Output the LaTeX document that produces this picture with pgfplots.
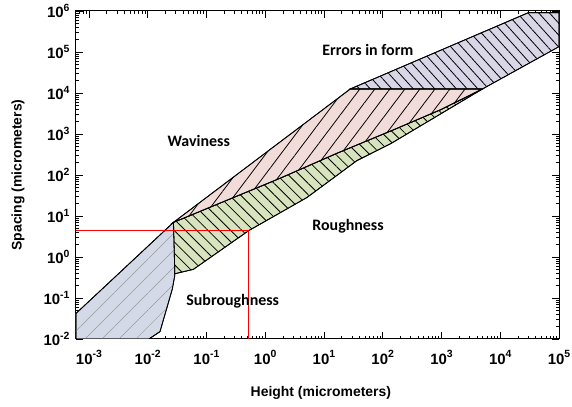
\documentclass[border=0pt]{standalone}
\usepackage{pgfplots}
\pgfplotsset{compat=1.18}
\usepackage{fontspec}
\setmainfont{Liberation Sans}
\newfontfamily\calibri{Carlito}
\usetikzlibrary{patterns.meta}
\definecolor{bluef}{RGB}{211,217,230}
\definecolor{greenf}{RGB}{215,228,190}
\definecolor{pinkf}{RGB}{242,220,217}
\definecolor{purplef}{RGB}{217,214,232}
\newcommand\expo[1]{\raisebox{0.45em}{\fontsize{10.5}{10.5}\selectfont\bfseries #1}}
\begin{document}
\begin{tikzpicture}
\begin{axis}[
  xmode=log, ymode=log, log basis x=10, log basis y=10,
  width=483bp, height=328bp, scale only axis,
  xmin=6.03e-4, xmax=1e5, ymin=1e-2, ymax=1e6,
  xtick={1e-3,1e-2,1e-1,1,1e1,1e2,1e3,1e4,1e5},
  ytick={1e-2,1e-1,1,1e1,1e2,1e3,1e4,1e5,1e6},
  minor xtick={7e-4,8e-4,9e-4,
    2e-3,3e-3,4e-3,5e-3,6e-3,7e-3,8e-3,9e-3,
    2e-2,3e-2,4e-2,5e-2,6e-2,7e-2,8e-2,9e-2,
    0.2,0.3,0.4,0.5,0.6,0.7,0.8,0.9,
    2,3,4,5,6,7,8,9,
    20,30,40,50,60,70,80,90,
    200,300,400,500,600,700,800,900,
    2000,3000,4000,5000,6000,7000,8000,9000,
    20000,30000,40000,50000,60000,70000,80000,90000},
  minor ytick={
    2e-2,3e-2,4e-2,5e-2,6e-2,7e-2,8e-2,9e-2,
    0.2,0.3,0.4,0.5,0.6,0.7,0.8,0.9,
    2,3,4,5,6,7,8,9,
    20,30,40,50,60,70,80,90,
    200,300,400,500,600,700,800,900,
    2000,3000,4000,5000,6000,7000,8000,9000,
    20000,30000,40000,50000,60000,70000,80000,90000,
    200000,300000,400000,500000,600000,700000,800000,900000},
  axis line style={line width=1bp},
  tick style={black, line width=0.7bp},
  major tick length=7bp, minor tick length=3.5bp,
  tick align=inside,
  xticklabel={10\expo{\pgfmathparse{int(round(\tick))}\pgfmathresult}},
  yticklabel={10\expo{\pgfmathparse{int(round(\tick))}\pgfmathresult}},
  tick label style={font=\bfseries\fontsize{15}{17}\selectfont},
  xticklabel style={yshift=-8bp},
  yticklabel style={xshift=-3bp},
  xlabel={Height (micrometers)}, ylabel={Spacing (micrometers)},
  label style={font=\bfseries\fontsize{14}{16}\selectfont},
  xlabel style={at={(axis description cs:0.507,-0.165)}, anchor=center},
  ylabel style={at={(axis description cs:-0.12,0.5)}, anchor=center},
]
\coordinate (bl) at (rel axis cs:0,0);
\coordinate (tr) at (rel axis cs:1,1);
% Subroughness
\addplot[draw=black, line width=0.8bp, fill=bluef,
  postaction={pattern={Lines[angle=45,distance=12bp,line width=0.5bp]}, pattern color=gray!80}]
  coordinates {(6.03e-4,0.01) (6.03e-4,0.042) (0.0275,7) (0.029,6.4) (0.029,0.36) (0.0263,0.166) (0.0162,0.0151) (0.0105,0.01)} -- cycle;
% Roughness
\addplot[draw=black, line width=0.8bp, fill=greenf,
  postaction={pattern={Lines[angle=-45,distance=8bp,line width=0.8bp]}, pattern color=black}]
  coordinates {(0.0275,7) (0.029,0.39) (0.060,0.50) (0.525,4.4) (5.13,28.2) (36.3,224) (135,575) (5012,12589)
  (955,3890) (151,1259) (16.6,339) (1.78,83.2) (0.195,22.4)} -- cycle;
% Waviness
\addplot[draw=black, line width=0.8bp, fill=pinkf,
  postaction={pattern={Lines[angle=53,distance=12bp,line width=0.8bp]}, pattern color=black}]
  coordinates {(0.0275,7) (28.2,12589) (5012,12589) (955,3890) (151,1259) (16.6,339) (1.78,83.2) (0.195,22.4)} -- cycle;
% Errors in form
\addplot[draw=black, line width=0.8bp, fill=purplef,
  postaction={pattern={Lines[angle=-48,distance=8bp,line width=0.8bp]}, pattern color=black}]
  coordinates {(28.2,12589) (30200,912000) (1e5,912000) (1e5,135000) (5012,12589)} -- cycle;
% red lines
\addplot[red, line width=1bp] coordinates {(6.03e-4,4.4) (0.525,4.4) (0.525,0.01)};
\node[font=\calibri\bfseries\fontsize{16}{18}\selectfont] at (axis cs:56,1.1e5) {Errors in form};
\node[font=\calibri\bfseries\fontsize{16}{18}\selectfont] at (axis cs:0.074,676) {Waviness};
\node[font=\calibri\bfseries\fontsize{16}{18}\selectfont] at (axis cs:25.7,5.75) {Roughness};
\node[font=\calibri\bfseries\fontsize{16}{18}\selectfont] at (axis cs:0.28,0.085) {Subroughness};
\end{axis}
\pgfresetboundingbox
\path (bl) -- ++(-76bp,-68bp);
\path (tr) -- ++(13bp,11bp);
\end{tikzpicture}
\end{document}
